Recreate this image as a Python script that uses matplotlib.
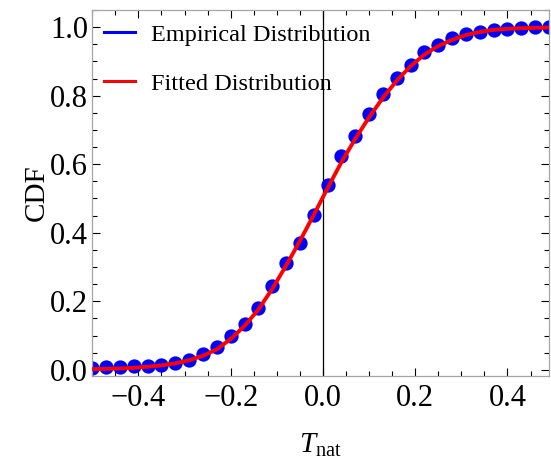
import numpy as np
import matplotlib
matplotlib.use("Agg")
import matplotlib.pyplot as plt
from matplotlib.lines import Line2D
from matplotlib.ticker import MultipleLocator

plt.rcParams["font.family"] = ["Liberation Serif", "DejaVu Serif"]
plt.rcParams["mathtext.fontset"] = "custom"
plt.rcParams["mathtext.rm"] = "Liberation Serif"
plt.rcParams["mathtext.it"] = "Liberation Serif:italic"

# Sample positions of T_nat
t_nat = [-0.50, -0.47, -0.44, -0.41, -0.38, -0.35, -0.32, -0.29, -0.26, -0.23,
         -0.20, -0.17, -0.14, -0.11, -0.08, -0.05, -0.02, 0.01, 0.04, 0.07,
         0.10, 0.13, 0.16, 0.19, 0.22, 0.25, 0.28, 0.31, 0.34, 0.37,
         0.40, 0.43, 0.46, 0.49]

# Empirical CDF values
cdf_empirical = [0.006, 0.007, 0.008, 0.010, 0.012, 0.015, 0.021, 0.030, 0.046, 0.066,
                 0.099, 0.134, 0.180, 0.244, 0.312, 0.370, 0.451, 0.538, 0.624, 0.682,
                 0.746, 0.804, 0.853, 0.890, 0.927, 0.949, 0.968, 0.981, 0.987, 0.993,
                 0.996, 0.998, 0.999, 0.999]

# Fitted CDF values
cdf_fitted = [0.002, 0.003, 0.004, 0.006, 0.009, 0.013, 0.019, 0.028, 0.041, 0.060,
              0.090, 0.128, 0.176, 0.236, 0.304, 0.376, 0.452, 0.530, 0.606, 0.674,
              0.737, 0.794, 0.844, 0.886, 0.920, 0.945, 0.963, 0.977, 0.986, 0.992,
              0.995, 0.997, 0.998, 0.999]

fig = plt.figure(figsize=(5.51, 4.61), dpi=100)
ax = fig.add_axes([0.1675, 0.1844, 0.8289, 0.7939])

ax.axvline(0.0, color="black", lw=0.9, zorder=1)
ax.plot(t_nat, cdf_empirical, "o", color=(0, 0, 1), ms=10.3, mew=0, zorder=2)
ax.plot(t_nat, cdf_fitted, "-", color=(1, 0, 0), lw=2.8, zorder=3)

ax.set_xlim(-0.5, 0.49)
ax.set_ylim(-0.018, 1.05)

ax.xaxis.set_major_locator(MultipleLocator(0.2))
ax.xaxis.set_minor_locator(MultipleLocator(0.05))
ax.yaxis.set_major_locator(MultipleLocator(0.2))
ax.yaxis.set_minor_locator(MultipleLocator(0.05))
ax.xaxis.set_major_formatter(plt.FuncFormatter(lambda v, p: f"{v:.1f}".replace("-", "\u2212")))
ax.yaxis.set_major_formatter(plt.FuncFormatter(lambda v, p: f"{v:.1f}"))

ax.tick_params(which="both", direction="in", top=True, right=True, color="black", width=0.8)
ax.tick_params(which="major", length=6, labelsize=22, pad=6)
ax.tick_params(which="minor", length=3.5)
ax.tick_params(axis="y", pad=3)
for s in ax.spines.values():
    s.set_color("#a6a6a6")
    s.set_linewidth(0.9)

ax.set_ylabel("CDF", fontsize=21, labelpad=0)
ax.set_xlabel(r"$T_{\mathrm{nat}}$", fontsize=21, labelpad=13)

handles = [Line2D([], [], color=(0, 0, 1), lw=2.2),
           Line2D([], [], color=(1, 0, 0), lw=2.2)]
ax.legend(handles, ["Empirical Distribution", "Fitted Distribution"],
          loc="upper left", bbox_to_anchor=(-0.004, 1.0), frameon=False,
          fontsize=17.5, handlelength=1.25, handletextpad=0.65,
          labelspacing=1.1, borderaxespad=0.35, borderpad=0.22)

fig.savefig("out.png", dpi=100)
